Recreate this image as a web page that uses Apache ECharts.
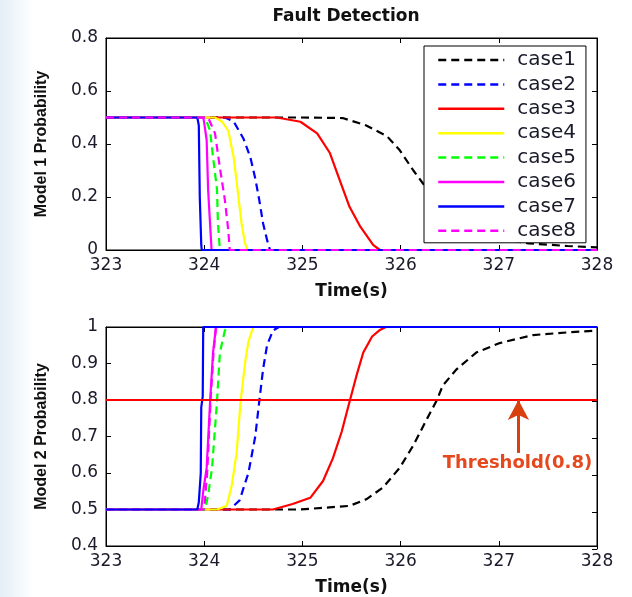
<!DOCTYPE html>
<html>
<head>
<meta charset="utf-8">
<script src="https://cdn.jsdelivr.net/npm/echarts@6/dist/echarts.min.js"></script>
<style>
html,body{margin:0;padding:0;background:#fff;}
#main{width:632px;height:597px;}
</style>
</head>
<body>
<div id="main"></div>
<script>
// ---------- data ----------
const caseNames = ['case1','case2','case3','case4','case5','case6','case7','case8'];
const xTicks = [323, 324, 325, 326, 327, 328];
const titleText = 'Fault Detection';
const xName = 'Time(s)';
const y1Name = 'Model 1 Probability';
const y2Name = 'Model 2 Probability';
const thresholdValue = 0.8;
const thresholdLabel = 'Threshold(0.8)';

// Model 1 probability, [time, value]
const m1Case1 = [[323,0.5],[324.98,0.5],[325.41,0.498],[325.65,0.47],[325.86,0.43],[325.99,0.377],[326.13,0.30],[326.23,0.25],[326.36,0.20],[326.43,0.16],[326.57,0.115],[326.77,0.07],[327.0,0.045],[327.3,0.025],[327.7,0.015],[328,0.01]];
const m1Case2 = [[323,0.5],[324.21,0.5],[324.30,0.485],[324.40,0.42],[324.47,0.35],[324.52,0.27],[324.56,0.19],[324.60,0.10],[324.64,0.038],[324.67,0],[328,0]];
const m1Case3 = [[323,0.5],[324.74,0.5],[324.98,0.484],[325.15,0.44],[325.28,0.366],[325.38,0.264],[325.48,0.163],[325.59,0.088],[325.72,0.019],[325.79,0],[328,0]];
const m1Case4 = [[323,0.5],[324.11,0.5],[324.18,0.485],[324.245,0.45],[324.30,0.35],[324.34,0.226],[324.38,0.101],[324.415,0.026],[324.44,0],[328,0]];
const m1Case5 = [[323,0.5],[324.01,0.5],[324.06,0.45],[324.09,0.35],[324.13,0.23],[324.14,0.10],[324.16,0],[328,0]];
const m1Case6 = [[323,0.5],[323.99,0.5],[324.0,0.48],[324.025,0.415],[324.04,0.226],[324.075,0],[328,0]];
const m1Case7 = [[323,0.5],[323.93,0.5],[323.945,0.47],[323.955,0.2],[323.97,0.02],[323.975,0],[328,0]];
const m1Case8 = [[323,0.5],[324.04,0.5],[324.11,0.44],[324.16,0.31],[324.21,0.19],[324.245,0.075],[324.26,0],[328,0]];

// Model 2 probability, [time, value]
const m2Case1 = [[323,0.5],[324.98,0.5],[325.48,0.51],[325.65,0.528],[325.82,0.56],[325.99,0.614],[326.13,0.676],[326.27,0.749],[326.37,0.80],[326.43,0.84],[326.57,0.884],[326.77,0.93],[327.01,0.956],[327.35,0.978],[327.69,0.985],[328,0.99]];
const m2Case2 = [[323,0.5],[324.26,0.5],[324.36,0.525],[324.45,0.60],[324.52,0.70],[324.56,0.795],[324.60,0.885],[324.64,0.95],[324.70,0.99],[324.76,1],[328,1]];
const m2Case3 = [[323,0.5],[324.70,0.5],[324.90,0.515],[325.08,0.532],[325.21,0.578],[325.31,0.64],[325.40,0.713],[325.48,0.795],[325.55,0.866],[325.62,0.93],[325.71,0.974],[325.79,0.992],[325.85,1],[328,1]];
const m2Case4 = [[323,0.5],[324.13,0.5],[324.23,0.51],[324.28,0.565],[324.33,0.655],[324.37,0.795],[324.42,0.91],[324.45,0.96],[324.50,1],[328,1]];
const m2Case5 = [[323,0.5],[324.01,0.5],[324.04,0.54],[324.08,0.614],[324.13,0.795],[324.16,0.93],[324.21,0.99],[324.23,1],[328,1]];
const m2Case6 = [[323,0.5],[323.97,0.5],[323.99,0.55],[324.025,0.614],[324.06,0.795],[324.09,0.93],[324.12,1],[328,1]];
const m2Case7 = [[323,0.5],[323.93,0.5],[323.945,0.52],[323.955,0.56],[323.965,0.6],[323.97,0.78],[323.985,0.81],[323.99,1],[328,1]];
const m2Case8 = [[323,0.5],[324.0,0.5],[324.03,0.6],[324.065,0.8],[324.095,0.93],[324.12,1],[328,1]];

const thresholdLine = [[323, thresholdValue],[328, thresholdValue]];
const arrowStart = [327.2, 0.655];
const arrowEnd = [327.2, 0.8];
const labelPos = [327.19, 0.627];

// ---------- styles ----------
const caseColors = ['#000000','#0000ff','#ff0000','#ffff00','#00ff00','#ff00ff','#0000ff','#ff00ff'];
const caseDashed = [true,true,false,false,true,false,false,true];
const m1Data = [m1Case1,m1Case2,m1Case3,m1Case4,m1Case5,m1Case6,m1Case7,m1Case8];
const m2Data = [m2Case1,m2Case2,m2Case3,m2Case4,m2Case5,m2Case6,m2Case7,m2Case8];

const FONT = 'DejaVu Sans';
const tickLabel = {fontFamily: FONT, fontSize: 17, color: '#1a1a2a'};

function mkSeries(name, data, i, xi, yi, z) {
  return {
    name: name, type: 'line', xAxisIndex: xi, yAxisIndex: yi,
    data: data, showSymbol: false, symbol: 'none', clip: false,
    z: z, animation: false,
    lineStyle: {color: caseColors[i], width: 2.2, type: caseDashed[i] ? [8,5] : 'solid'},
    itemStyle: {color: caseColors[i]}
  };
}

const series = [];
m1Data.forEach((d,i) => series.push(mkSeries(caseNames[i], d, i, 0, 0, 2)));
m2Data.forEach((d,i) => series.push(mkSeries(caseNames[i], d, i, 2, 2, i === 6 ? 3 : 2)));
series.push({
  name: 'threshold', type: 'line', xAxisIndex: 2, yAxisIndex: 2,
  data: thresholdLine, showSymbol: false, symbol: 'none', z: 4, animation: false,
  lineStyle: {color: '#ff0000', width: 2},
  markLine: {
    silent: true, animation: false,
    symbol: ['none','arrow'], symbolSize: [16, 20],
    lineStyle: {color: '#d8400e', width: 3, type: 'solid'},
    label: {show: false},
    data: [[{coord: arrowStart}, {coord: arrowEnd}]]
  },
  markPoint: {
    silent: true, animation: false,
    symbol: 'rect', symbolSize: 1,
    itemStyle: {color: 'rgba(0,0,0,0)'},
    label: {show: true, position: 'inside', formatter: thresholdLabel,
      fontFamily: FONT, fontWeight: 'bold', fontSize: 18, color: '#e4481c'},
    data: [{coord: labelPos}]
  }
});

function xAxisMain(gi) {
  return {
    gridIndex: gi, type: 'value', min: xTicks[0], max: xTicks[xTicks.length-1], interval: 1,
    position: 'bottom',
    axisLine: {show: true, onZero: false, lineStyle: {color: '#000', width: 1}},
    axisTick: {show: true, inside: true, length: 5, lineStyle: {color: '#000'}},
    axisLabel: Object.assign({margin: 7}, tickLabel),
    splitLine: {show: false},
    name: xName, nameLocation: 'middle', nameGap: 33,
    nameTextStyle: {fontFamily: FONT, fontWeight: 'bold', fontSize: 17, color: '#111'}
  };
}
function xAxisTop(gi) {
  return {
    gridIndex: gi, type: 'value', min: xTicks[0], max: xTicks[xTicks.length-1], interval: 1,
    position: 'top',
    axisLine: {show: true, onZero: false, lineStyle: {color: '#000', width: 1}},
    axisTick: {show: true, inside: true, length: 5, lineStyle: {color: '#000'}},
    axisLabel: {show: false}, splitLine: {show: false}
  };
}
function yAxisMain(gi, min, max, interval, name) {
  return {
    gridIndex: gi, type: 'value', min: min, max: max, interval: interval, position: 'left',
    axisLine: {show: true, onZero: false, lineStyle: {color: '#000', width: 1}},
    axisTick: {show: true, inside: true, length: 5, lineStyle: {color: '#000'}},
    axisLabel: Object.assign({margin: 8}, tickLabel),
    splitLine: {show: false},
    name: name, nameLocation: 'middle', nameGap: 56, nameRotate: 90,
    nameTextStyle: {fontFamily: 'Liberation Sans', fontWeight: 'bold', fontSize: 16, color: '#111'}
  };
}
function yAxisRight(gi, min, max, interval) {
  return {
    gridIndex: gi, type: 'value', min: min, max: max, interval: interval, position: 'right',
    axisLine: {show: true, onZero: false, lineStyle: {color: '#000', width: 1}},
    axisTick: {show: true, inside: true, length: 5, lineStyle: {color: '#000'}},
    axisLabel: {show: false}, splitLine: {show: false}
  };
}

const option = {
  backgroundColor: '#ffffff',
  animation: false,
  graphic: [
    {type: 'rect', left: 0, top: 0, z: -10, shape: {width: 34, height: 597},
      style: {fill: new echarts.graphic.LinearGradient(0,0,1,0,[{offset:0,color:'#e3eef6'},{offset:1,color:'#ffffff'}])}},
    {type: 'text', x: 346, y: 17, z: 10,
      style: {text: titleText, fontFamily: FONT, fontWeight: 'bold', fontSize: 17, fill: '#111',
        align: 'center', verticalAlign: 'middle'}}
  ],
  grid: [
    {left: 106, top: 38, width: 491, height: 212, show: true, borderColor: '#000', borderWidth: 1, backgroundColor: '#fff'},
    {left: 106, top: 38, width: 491, height: 212, show: false},
    {left: 106, top: 327, width: 491, height: 222, show: true, borderColor: '#000', borderWidth: 1, backgroundColor: '#fff'},
    {left: 106, top: 327, width: 491, height: 222, show: false}
  ],
  xAxis: [xAxisMain(0), xAxisTop(1), xAxisMain(2), xAxisTop(3)],
  yAxis: [
    yAxisMain(0, 0, 0.8, 0.2, y1Name), yAxisRight(1, 0, 0.8, 0.2),
    yAxisMain(2, 0.4, 1, 0.1, y2Name), yAxisRight(3, 0.4, 1, 0.1)
  ],
  legend: {
    show: true, z: 20,
    data: caseNames, orient: 'vertical', left: 424, top: 46,
    backgroundColor: '#ffffff', borderColor: '#000', borderWidth: 1,
    padding: [4, 10, 2, 13], itemGap: 4.4, itemWidth: 66, itemHeight: 20,
    selectedMode: false,
    itemStyle: {opacity: 0},
    lineStyle: {width: 2.5},
    textStyle: {fontFamily: FONT, fontSize: 20, color: '#1a1a2a', lineHeight: 20, padding: [0, 0, 0, 8]}
  },
  series: series
};

const chart = echarts.init(document.getElementById('main'), null, {renderer: 'canvas'});
chart.setOption(option);
</script>
</body>
</html>
